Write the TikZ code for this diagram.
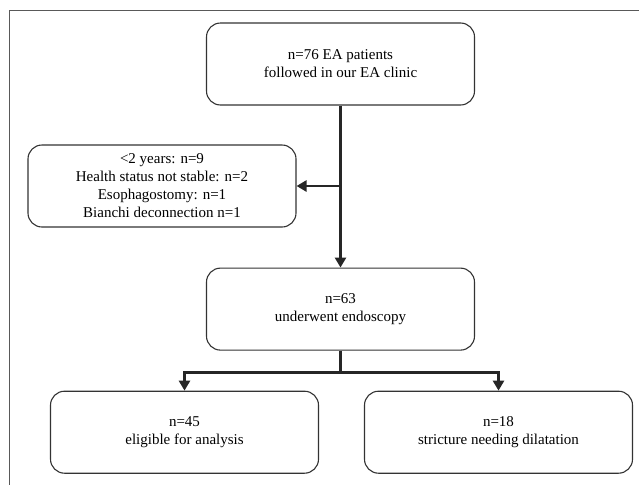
\documentclass[tikz,border=0pt]{standalone}
\usepackage{fontspec}
\setmainfont{Liberation Serif}
\usetikzlibrary{positioning,arrows.meta}

\begin{document}
\begin{tikzpicture}[%
        x=1pt,y=1pt,
        node distance=40pt,
        flowbox/.style={%
          rectangle,
          rounded corners=14pt,
          minimum width=268pt,
          minimum height=82pt,
          align=center,
          draw=black!80,
          line width=1.1pt,
          font=\fontsize{15pt}{18pt}\selectfont
        },
        conn/.style={%
          line width=2.6pt,
          draw=black!85,
          -{Triangle[length=10pt,width=11pt]}
        }
      ]
      \useasboundingbox (0,0) rectangle (639,-485);
      % frame (top and left edges only)
      \draw[black!65, line width=0.9pt] (639,-10) -- (9,-10) -- (9,-485);

      \node[flowbox] (all) at (340.5,-64) {n=76 EA patients\\followed in our EA clinic};
      \node[flowbox] (endo) [below=162pt of all] {n=63\\underwent endoscopy};
      \node[flowbox] (excl) at (162,-186) {<2 years: n=9\\Health status not stable: n=2\\Esophagostomy: n=1\\Bianchi deconnection n=1};
      \node[flowbox] (elig) [below=40pt of endo, xshift=-156pt] {n=45\\eligible for analysis};
      \node[flowbox] (dil) [below=40pt of endo, xshift=158pt] {n=18\\stricture needing dilatation};

      \coordinate (split) at (all.south |- excl.east);
      \path (endo.south) ++(0,-22) coordinate (fork);

      \draw[conn] (all) -- (endo);
      \draw[conn] (split) -- (excl.east);
      \draw[conn, -] (endo) -- (fork);
      \draw[conn] (fork) -| (elig);
      \draw[conn] (fork) -| (dil);

  \end{tikzpicture}
\end{document}
